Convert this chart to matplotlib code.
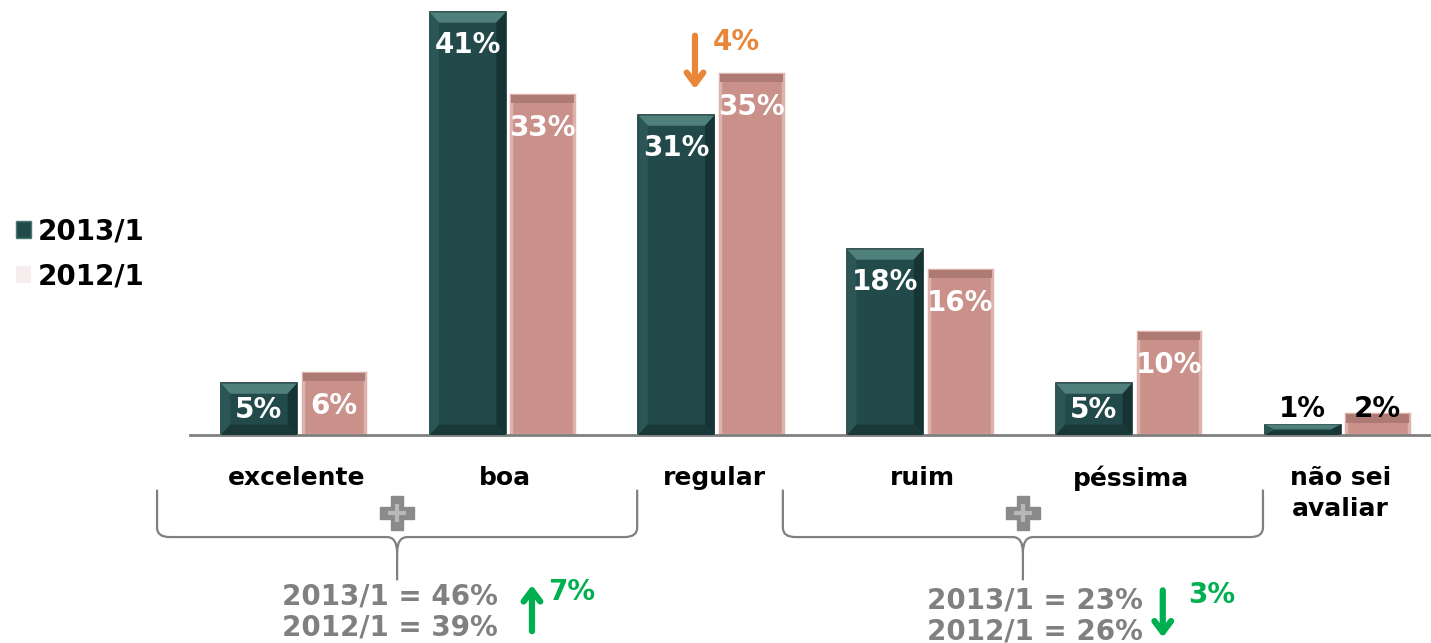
import matplotlib
matplotlib.use("Agg")
import matplotlib.pyplot as plt
import numpy as np
from matplotlib.patches import Polygon, Patch, PathPatch
from matplotlib.path import Path

plt.rcParams["font.family"] = ["DejaVu Sans"]
plt.rcParams["font.weight"] = "bold"

# data
categories = ["excelente", "boa", "regular", "ruim", "péssima", "não sei\navaliar"]
series_2013 = [5, 41, 31, 18, 5, 1]
series_2012 = [6, 33, 35, 16, 10, 2]
series_names = ["2013/1", "2012/1"]

change_regular = "4%"
positive_sum = ["2013/1 = 46%", "2012/1 = 39%"]
positive_change = "7%"
negative_sum = ["2013/1 = 23%", "2012/1 = 26%"]
negative_change = "3%"

DARK = "#234a4a"
PINK = "#c9918a"
GRAY = "#808080"
GREEN = "#00b050"
ORANGE = "#e8873a"

fig = plt.figure(figsize=(14.31, 6.43), dpi=100)
ax = fig.add_axes([0.1328, 0.3235, 0.8672, 0.6734])
x = np.arange(len(categories))

dark_bars = ax.bar(x - 0.18, series_2013, width=0.365, color=DARK,
                   edgecolor="#163232", linewidth=1.2, zorder=2)
pink_bars = ax.bar(x + 0.18, series_2012, width=0.30, color=PINK,
                   edgecolor="#dcb3ad", linewidth=2.5, zorder=2)

# bevel on dark bars
for b in dark_bars:
    x0, w, h = b.get_x(), b.get_width(), b.get_height()
    bx = 0.045
    by = min(1.0, h * 0.45)
    ax.add_patch(Polygon([(x0, h), (x0 + w, h), (x0 + w - bx, h - by), (x0 + bx, h - by)],
                         closed=True, color="#4f807c", zorder=3, lw=0))
    ax.add_patch(Polygon([(x0 + w, h), (x0 + w, 0), (x0 + w - bx, by), (x0 + w - bx, h - by)],
                         closed=True, color="#173434", zorder=3, lw=0))
    ax.add_patch(Polygon([(x0, h), (x0, 0), (x0 + bx, by), (x0 + bx, h - by)],
                         closed=True, color="#2c5656", zorder=3, lw=0))
    ax.add_patch(Polygon([(x0, 0), (x0 + w, 0), (x0 + w - bx, by), (x0 + bx, by)],
                         closed=True, color="#1a3838", zorder=3, lw=0))

# darker top band on pink bars
for b in pink_bars:
    x0, w, h = b.get_x(), b.get_width(), b.get_height()
    band = min(0.8, h * 0.4)
    ax.bar(x0 + w / 2, band, width=w, bottom=h - band, color="#ad7a74", lw=0, zorder=3)

# value labels
for bars, vals in ((dark_bars, series_2013), (pink_bars, series_2012)):
    for b, v in zip(bars, vals):
        cx = b.get_x() + b.get_width() / 2
        if v < 3:
            ax.text(cx, 2.5, f"{v}%", ha="center", va="center", fontsize=20,
                    color="black", zorder=5)
        else:
            ax.text(cx, max(v - 3.2, 2.4), f"{v}%", ha="center", va="center",
                    fontsize=20, color="white", zorder=5)

ax.set_xlim(-0.51, 5.435)
ax.set_ylim(0, 42)
for s in ["top", "right", "left"]:
    ax.spines[s].set_visible(False)
ax.spines["bottom"].set_color("#7f7f7f")
ax.spines["bottom"].set_linewidth(2)
ax.set_yticks([])
ax.set_xticks([])

for xi, c in zip(x, categories):
    ax.text(xi, -3.0, c, ha="center", va="top", fontsize=18, color="black",
            linespacing=1.38, clip_on=False)


def brace(x0, x1, ytop, ymid, ytip):
    xc = (x0 + x1) / 2
    r = 0.06
    ry = 0.9
    verts = [(x0, ytop), (x0, ymid + ry), (x0, ymid), (x0 + r, ymid),
             (xc - 0.05, ymid), (xc, ymid), (xc, ymid - 1.5),
             (xc, ytip),
             (xc, ymid - 1.5), (xc, ymid), (xc + 0.05, ymid),
             (x1 - r, ymid), (x1, ymid), (x1, ymid + ry), (x1, ytop)]
    codes = [Path.MOVETO, Path.LINETO, Path.CURVE3, Path.CURVE3,
             Path.LINETO, Path.CURVE3, Path.CURVE3,
             Path.LINETO,
             Path.MOVETO, Path.CURVE3, Path.CURVE3,
             Path.LINETO, Path.CURVE3, Path.CURVE3, Path.LINETO]
    ax.add_patch(PathPatch(Path(verts, codes), fill=False, edgecolor=GRAY,
                           lw=1.6, clip_on=False))
    ax.plot([xc], [(ytop + ymid) / 2 + 0.0], marker="P", ms=25, color="#8a8a8a",
            mec="#8a8a8a", clip_on=False)
    ax.plot([xc], [(ytop + ymid) / 2 + 0.0], marker="+", ms=13, mew=3,
            color="#b8b8b8", clip_on=False)


brace(-0.668, 1.632, -5.3, -9.9, -14.1)
brace(2.33, 4.63, -5.3, -9.9, -14.1)

# group sums
ax.text(0.448, -15.7, positive_sum[0], ha="center", va="center", fontsize=20,
        color=GRAY, clip_on=False)
ax.text(0.448, -18.7, positive_sum[1], ha="center", va="center", fontsize=20,
        color=GRAY, clip_on=False)
ax.text(3.54, -16.1, negative_sum[0], ha="center", va="center", fontsize=20,
        color=GRAY, clip_on=False)
ax.text(3.54, -19.1, negative_sum[1], ha="center", va="center", fontsize=20,
        color=GRAY, clip_on=False)

arrow = "->,head_length=0.8,head_width=0.6"
ax.annotate("", xy=(1.128, -14.3), xytext=(1.128, -19.3),
            arrowprops=dict(arrowstyle=arrow, lw=4.5, color=GREEN), annotation_clip=False)
ax.text(1.205, -15.2, positive_change, ha="left", va="center", fontsize=20,
        color=GREEN, clip_on=False)
ax.annotate("", xy=(4.15, -19.9), xytext=(4.15, -14.8),
            arrowprops=dict(arrowstyle=arrow, lw=4.5, color=GREEN), annotation_clip=False)
ax.text(4.27, -15.5, negative_change, ha="left", va="center", fontsize=20,
        color=GREEN, clip_on=False)

ax.annotate("", xy=(1.909, 33.3), xytext=(1.909, 39.0),
            arrowprops=dict(arrowstyle=arrow, lw=4.5, color=ORANGE), annotation_clip=False)
ax.text(1.994, 38.1, change_regular, ha="left", va="center", fontsize=20,
        color=ORANGE, clip_on=False)

handles = [Patch(facecolor=DARK, edgecolor="#4a7875"),
           Patch(facecolor="#f6eeee", edgecolor="none")]
fig.legend(handles, series_names, loc="center left", bbox_to_anchor=(-0.0065, 0.605),
           frameon=False, fontsize=20, handlelength=0.55, handleheight=0.55,
           handletextpad=0.25, labelspacing=0.6)

fig.savefig("out.png", dpi=100)
